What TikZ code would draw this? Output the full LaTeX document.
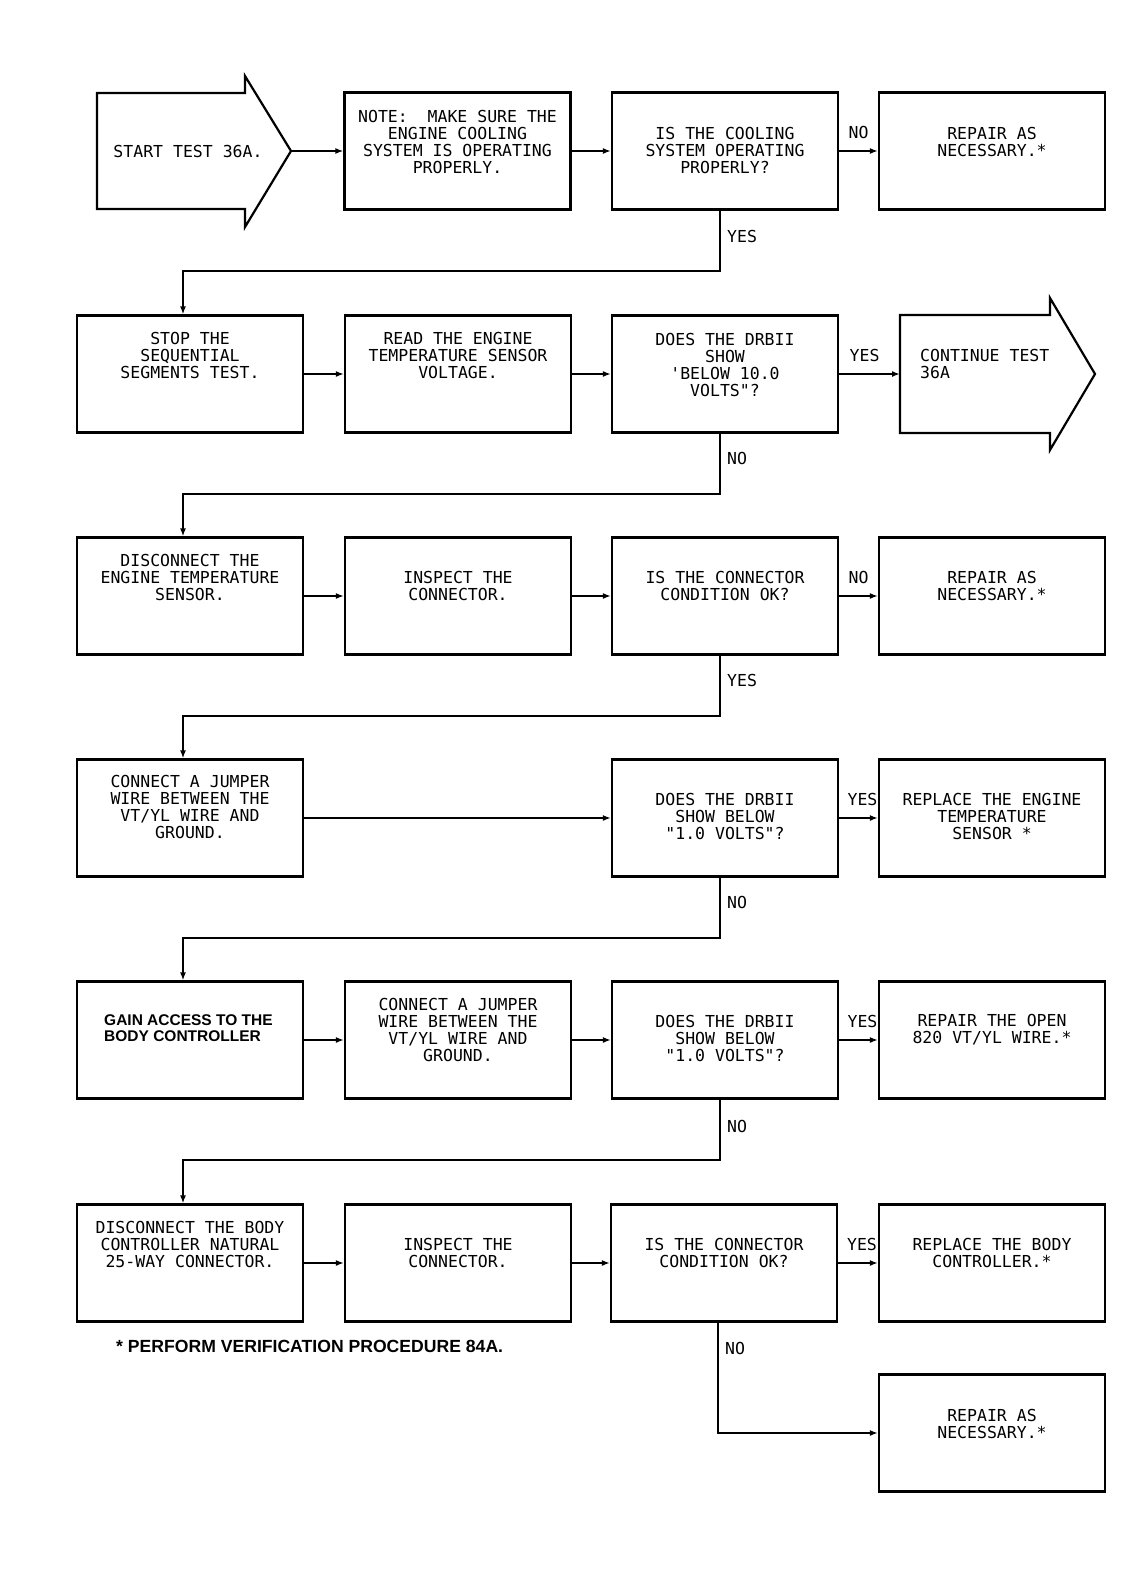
\documentclass[tikz,border=0pt]{standalone}
\usepackage{fontspec}
\setmainfont{Liberation Sans}
\newfontfamily\plotfont{DejaVu Sans Mono}
\usetikzlibrary{arrows.meta}
\begin{document}
\begin{tikzpicture}[x=1pt,y=-1pt,
  box/.style={draw, line width=2.2pt, minimum width=226pt, minimum height=117pt, inner sep=0pt},
  txt/.style={font=\plotfont\fontsize{16.5}{17}\selectfont, align=center, inner sep=0pt},
  lab/.style={font=\plotfont\fontsize{16.5}{17}\selectfont, inner sep=0pt},
  conn/.style={line width=2pt, -{Latex[length=8pt,width=6pt]}},
  bigarrow/.style={draw, line width=2.2pt, line join=miter},
  boldtxt/.style={font=\bfseries\fontsize{15.5}{16}\selectfont, align=left, inner sep=0pt}
]
\useasboundingbox (0,0) rectangle (1144,1569);

% ---------- Row 1 ----------
\draw[bigarrow] (97,93) -- (245,93) -- (245,76) -- (291,151) -- (245,227) -- (245,209) -- (97,209) -- cycle;
\coordinate (startTip) at (291,151);
\node[txt] (startT) at (188,151) {START TEST 36A.};

\node[box] (note) at (457.5,151) {};
\node[txt] (noteT) at (457.5,142) {NOTE:~~MAKE SURE THE\\ENGINE COOLING\\SYSTEM IS OPERATING\\PROPERLY.};

\node[box] (q1) at (725,151) {};
\node[txt] (q1T) at (725,150) {IS THE COOLING\\SYSTEM OPERATING\\PROPERLY?};

\node[box] (r1) at (992,151) {};
\node[txt] (r1T) at (992,142) {REPAIR AS\\NECESSARY.*};

% ---------- Row 2 ----------
\node[box] (stop) at (190,374) {};
\node[txt] (stopT) at (190,355) {STOP THE\\SEQUENTIAL\\SEGMENTS TEST.};

\node[box] (read) at (458,374) {};
\node[txt] (readT) at (458,355) {READ THE ENGINE\\TEMPERATURE SENSOR\\VOLTAGE.};

\node[box] (q2) at (725,374) {};
\node[txt] (q2T) at (725,364.5) {DOES THE DRBII\\SHOW\\'BELOW 10.0\\VOLTS"?};

\draw[bigarrow] (900,315) -- (1050,315) -- (1050,298) -- (1095,374) -- (1050,450) -- (1050,433) -- (900,433) -- cycle;
\coordinate (contTail) at (900,374);
\node[txt, anchor=west, align=left] (contT) at (920,363.5) {CONTINUE TEST\\36A};

% ---------- Row 3 ----------
\node[box] (disc) at (190,596) {};
\node[txt] (discT) at (190,577) {DISCONNECT THE\\ENGINE TEMPERATURE\\SENSOR.};

\node[box] (insp) at (458,596) {};
\node[txt] (inspT) at (458,585.5) {INSPECT THE\\CONNECTOR.};

\node[box] (q3) at (725,596) {};
\node[txt] (q3T) at (725,586) {IS THE CONNECTOR\\CONDITION OK?};

\node[box] (r3) at (992,596) {};
\node[txt] (r3T) at (992,585.5) {REPAIR AS\\NECESSARY.*};

% ---------- Row 4 ----------
\node[box] (jump) at (190,818) {};
\node[txt] (jumpT) at (190,806.5) {CONNECT A JUMPER\\WIRE BETWEEN THE\\VT/YL WIRE AND\\GROUND.};

\node[box] (q4) at (725,818) {};
\node[txt] (q4T) at (725,816) {DOES THE DRBII\\SHOW BELOW\\"1.0 VOLTS"?};

\node[box] (r4) at (992,818) {};
\node[txt] (r4T) at (992,816) {REPLACE THE ENGINE\\TEMPERATURE\\SENSOR *};

% ---------- Row 5 ----------
\node[box] (gain) at (190,1040) {};
\node[boldtxt, anchor=west] (gainT) at (104,1028) {GAIN ACCESS TO THE\\BODY CONTROLLER};

\node[box] (jump2) at (458,1040) {};
\node[txt] (jump2T) at (458,1029.5) {CONNECT A JUMPER\\WIRE BETWEEN THE\\VT/YL WIRE AND\\GROUND.};

\node[box] (q5) at (725,1040) {};
\node[txt] (q5T) at (725,1038.5) {DOES THE DRBII\\SHOW BELOW\\"1.0 VOLTS"?};

\node[box] (r5) at (992,1040) {};
\node[txt] (r5T) at (992,1029.5) {REPAIR THE OPEN\\820 VT/YL WIRE.*};

% ---------- Row 6 ----------
\node[box] (disc2) at (190,1263) {};
\node[txt] (disc2T) at (190,1244) {DISCONNECT THE BODY\\CONTROLLER NATURAL\\25-WAY CONNECTOR.};

\node[box] (insp2) at (458,1263) {};
\node[txt] (insp2T) at (458,1252.5) {INSPECT THE\\CONNECTOR.};

\node[box] (q6) at (724,1263) {};
\node[txt] (q6T) at (724,1252.5) {IS THE CONNECTOR\\CONDITION OK?};

\node[box] (r6) at (992,1263) {};
\node[txt] (r6T) at (992,1252.5) {REPLACE THE BODY\\CONTROLLER.*};

% ---------- Row 7 ----------
\node[box] (r7) at (992,1433) {};
\node[txt] (r7T) at (992,1423.5) {REPAIR AS\\NECESSARY.*};

\node[boldtxt, anchor=west, font=\bfseries\fontsize{17.6}{18}\selectfont] (foot) at (116,1346) {* PERFORM VERIFICATION PROCEDURE 84A.};

% ---------- Connectors ----------
\draw[conn] (startTip) -- (note.west);
\draw[conn] (note.east) -- (q1.west);
\draw[conn] (q1.east) -- node[lab, above=11pt] (no1) {NO} (r1.west);
\draw[conn] ([xshift=-5pt]q1.south) -- ++(0,60) -| ([xshift=-7pt]stop.north);
\node[lab, anchor=west] (yes1) at (727,236) {YES};

\draw[conn] (stop.east) -- (read.west);
\draw[conn] (read.east) -- (q2.west);
\draw[conn] (q2.east) -- node[lab, above=11pt, xshift=-5pt] (yes2) {YES} (contTail);
\draw[conn] ([xshift=-5pt]q2.south) -- ++(0,60) -| ([xshift=-7pt]disc.north);
\node[lab, anchor=west] (no2) at (727,458) {NO};

\draw[conn] (disc.east) -- (insp.west);
\draw[conn] (insp.east) -- (q3.west);
\draw[conn] (q3.east) -- node[lab, above=11pt] (no3) {NO} (r3.west);
\draw[conn] ([xshift=-5pt]q3.south) -- ++(0,60) -| ([xshift=-7pt]jump.north);
\node[lab, anchor=west] (yes3) at (727,680) {YES};

\draw[conn] (jump.east) -- (q4.west);
\draw[conn] (q4.east) -- node[lab, above=11pt, xshift=4pt] (yes4) {YES} (r4.west);
\draw[conn] ([xshift=-5pt]q4.south) -- ++(0,60) -| ([xshift=-7pt]gain.north);
\node[lab, anchor=west] (no4) at (727,902) {NO};

\draw[conn] (gain.east) -- (jump2.west);
\draw[conn] (jump2.east) -- (q5.west);
\draw[conn] (q5.east) -- node[lab, above=11pt, xshift=4pt] (yes5) {YES} (r5.west);
\draw[conn] ([xshift=-5pt]q5.south) -- ++(0,60) -| ([xshift=-7pt]disc2.north);
\node[lab, anchor=west] (no5) at (727,1126) {NO};

\draw[conn] (disc2.east) -- (insp2.west);
\draw[conn] (insp2.east) -- (q6.west);
\draw[conn] (q6.east) -- node[lab, above=11pt, xshift=4pt] (yes6) {YES} (r6.west);
\draw[conn] ([xshift=-6pt]q6.south) |- (r7.west);
\node[lab, anchor=west] (no6) at (725,1348) {NO};
\end{tikzpicture}
\end{document}
